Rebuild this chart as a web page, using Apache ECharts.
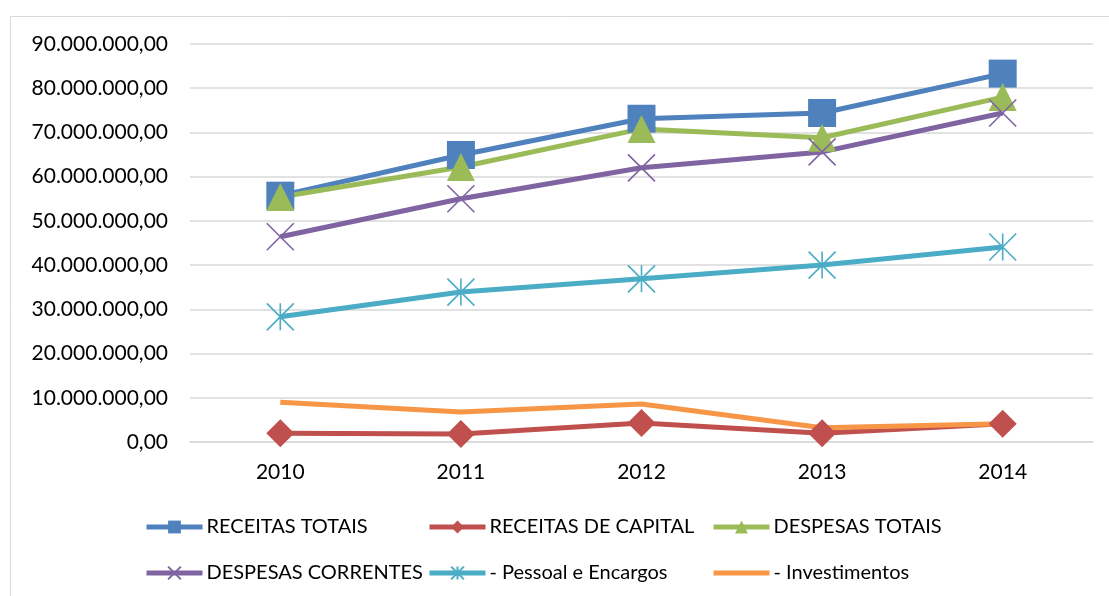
<!DOCTYPE html>
<html>
<head>
<meta charset="utf-8">
<script src="https://cdn.jsdelivr.net/npm/echarts@6/dist/echarts.min.js"></script>
<style>
  html, body { margin: 0; padding: 0; background: #fff; }
  #main { width: 1109px; height: 596px; }
</style>
</head>
<body>
<div id="main"></div>
<script>
const anos = ['2010', '2011', '2012', '2013', '2014'];
const receitasTotais = [55700000, 64900000, 73100000, 74400000, 83300000];
const receitasCapital = [2000000, 1800000, 4300000, 2000000, 4100000];
const despesasTotais = [55400000, 62200000, 70800000, 68800000, 78000000];
const despesasCorrentes = [46400000, 55000000, 62000000, 65600000, 74400000];
const pessoal = [28300000, 33900000, 36900000, 40000000, 44100000];
const investimentos = [9000000, 6800000, 8600000, 3200000, 4100000];

const fonte = 'Lato, "Open Sans", sans-serif';

// formato brasileiro 90.000.000,00
function fmt(v) {
    let s = Math.round(v).toString().replace(/\B(?=(\d{3})+(?!\d))/g, '.');
    return s + ',00';
}

const xPath = 'path://M0,0 L20,20 M20,0 L0,20';
const astPath = 'path://M0,0 L20,20 M20,0 L0,20 M10,0 L10,20';

let myChart = echarts.init(document.getElementById('main'));

const legendBase = {
    orient: 'vertical',
    top: 512,
    itemWidth: 56,
    itemHeight: 16,
    itemGap: 26,
    lineStyle: { width: 5 },
    textStyle: { color: '#000', fontSize: 20, fontFamily: fonte, padding: [0, 0, 0, -1] }
};

option = {
    animation: false,
    graphic: [{
        type: 'rect',
        shape: { x: 10.5, y: 16.5, width: 1110, height: 600 },
        style: { fill: 'none', stroke: '#d9d9d9', lineWidth: 1 }
    }],
    grid: { left: 190, right: 16, top: 44, bottom: 154 },
    legend: [
        Object.assign({}, legendBase, { left: 139, data: ['RECEITAS TOTAIS', 'DESPESAS CORRENTES'] }),
        Object.assign({}, legendBase, { left: 422, data: ['RECEITAS DE CAPITAL', '- Pessoal e Encargos'] }),
        Object.assign({}, legendBase, { left: 706, data: ['DESPESAS TOTAIS', {
            name: '- Investimentos',
            itemStyle: { color: 'transparent', borderWidth: 0 }
        }] })
    ],
    xAxis: {
        type: 'category',
        data: anos,
        axisTick: { show: false },
        axisLine: { lineStyle: { color: '#d9d9d9', width: 1.5 } },
        axisLabel: { color: '#000', fontSize: 21, fontFamily: fonte, margin: 20 }
    },
    yAxis: {
        type: 'value',
        min: 0,
        max: 90000000,
        interval: 10000000,
        axisLabel: { color: '#000', fontSize: 21, fontFamily: fonte, margin: 22, formatter: fmt },
        splitLine: { lineStyle: { color: '#d9d9d9', width: 1.5 } }
    },
    series: [
        {
            name: 'RECEITAS TOTAIS', type: 'line', data: receitasTotais,
            symbol: 'rect', symbolSize: 28,
            lineStyle: { color: '#4f81bd', width: 5 },
            itemStyle: { color: '#4f81bd' }
        },
        {
            name: 'RECEITAS DE CAPITAL', type: 'line', data: receitasCapital,
            symbol: 'diamond', symbolSize: [28, 28],
            lineStyle: { color: '#c0504d', width: 5 },
            itemStyle: { color: '#c0504d' }
        },
        {
            name: 'DESPESAS TOTAIS', type: 'line', data: despesasTotais,
            symbol: 'triangle', symbolSize: 28,
            lineStyle: { color: '#9bbb59', width: 5 },
            itemStyle: { color: '#9bbb59' }
        },
        {
            name: 'DESPESAS CORRENTES', type: 'line', data: despesasCorrentes,
            symbol: xPath, symbolSize: 27,
            lineStyle: { color: '#8064a2', width: 5 },
            itemStyle: { color: 'none', borderColor: '#8064a2', borderWidth: 1.6 }
        },
        {
            name: '- Pessoal e Encargos', type: 'line', data: pessoal,
            symbol: astPath, symbolSize: 27,
            lineStyle: { color: '#4bacc6', width: 5 },
            itemStyle: { color: 'none', borderColor: '#4bacc6', borderWidth: 1.6 }
        },
        {
            name: '- Investimentos', type: 'line', data: investimentos,
            symbol: 'none',
            lineStyle: { color: '#f79646', width: 5 },
            itemStyle: { color: '#f79646' }
        }
    ]
};

myChart.setOption(option);
</script>
</body>
</html>
